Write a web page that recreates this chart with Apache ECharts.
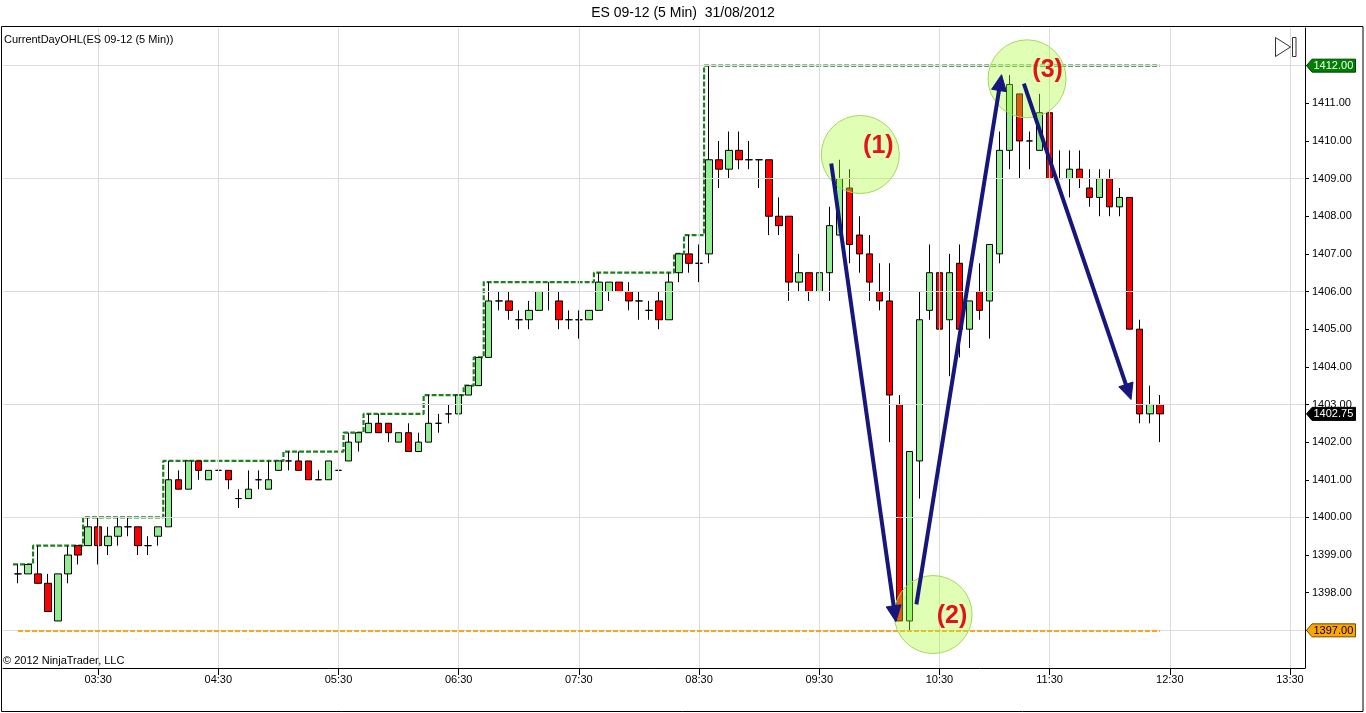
<!DOCTYPE html>
<html>
<head>
<meta charset="utf-8">
<script src="https://cdn.jsdelivr.net/npm/echarts@6/dist/echarts.min.js"></script>
<style>
html,body{margin:0;padding:0;background:#fff;}
#c{width:1366px;height:713px;}
</style>
</head>
<body>
<div id="c"></div>
<script>
// ---------- DATA ----------
const titleText = 'ES 09-12 (5 Min)  31/08/2012';
const indicatorText = 'CurrentDayOHL(ES 09-12 (5 Min))';
const copyrightText = '\u00A9 2012 NinjaTrader, LLC';

// 5-minute slots of the time axis (one empty slot before the first bar)
const cats = [
'02:45','02:50','02:55',
'03:00','03:05','03:10','03:15','03:20','03:25','03:30','03:35','03:40','03:45','03:50','03:55',
'04:00','04:05','04:10','04:15','04:20','04:25','04:30','04:35','04:40','04:45','04:50','04:55',
'05:00','05:05','05:10','05:15','05:20','05:25','05:30','05:35','05:40','05:45','05:50','05:55',
'06:00','06:05','06:10','06:15','06:20','06:25','06:30','06:35','06:40','06:45','06:50','06:55',
'07:00','07:05','07:10','07:15','07:20','07:25','07:30','07:35','07:40','07:45','07:50','07:55',
'08:00','08:05','08:10','08:15','08:20','08:25','08:30','08:35','08:40','08:45','08:50','08:55',
'09:00','09:05','09:10','09:15','09:20','09:25','09:30','09:35','09:40','09:45','09:50','09:55',
'10:00','10:05','10:10','10:15','10:20','10:25','10:30','10:35','10:40','10:50','10:55',
'11:00','11:05','11:10','11:15','11:20','11:25','11:30','11:35','11:40','11:45','11:50','11:55',
'12:00','12:05','12:10','12:15','12:20','12:25','12:30','12:35','12:40','12:45','12:50','12:55',
'13:00','13:05','13:10','13:15','13:20','13:25','13:30','13:35'
];
const tickLabels = ['03:30','04:30','05:30','06:30','07:30','08:30','09:30','10:30','11:30','12:30','13:30'];

const opens = [
1398.5,1398.5,1398.5,1398.25,1397.25,1398.5,1399.25,1399.25,1399.75,1399.25,
1399.5,1399.75,1399.75,1399.25,1399.5,1399.75,1401,1400.75,1401.5,1401,
1401.25,1401.25,1400.5,1400.5,1401,1400.75,1401.25,1401.5,1401.5,1401.5,
1401,1401,1401.25,1401.5,1402,1402.25,1402.5,1402.5,1402,1402.25,
1401.75,1402,1402.5,1402.75,1402.75,1403.25,1403.5,1404.25,1405.75,1405.75,
1405.25,1405.25,1405.5,1406,1405.75,1405.25,1405.25,1405.25,1405.5,1406,
1406.25,1406,1405.75,1405.5,1405.75,1405.25,1406.5,1407,1406.75,1407,
1409.5,1409.25,1409.75,1409.5,1409.5,1409.5,1408,1408,1406.25,1406.5,
1406,1406.5,1407.5,1408.75,1407.5,1407,1406,1405.75,1403,1397.25,
1401.5,1405.5,1406.5,1405.25,1406.75,1405,1406,1405.75,1407,1409.75,
1411.25,1410,1409.75,1410.75,1409,1409,1409.25,1408.75,1408.5,1409,
1408.25,1408.5,1405,1402.75,1403
];
const highs = [
1398.75,1398.75,1399.25,1398.5,1398.5,1399.25,1399.25,1400,1400,1399.75,
1400,1400,1399.75,1399.5,1399.75,1401.5,1401.25,1401.5,1401.5,1401.25,
1401.25,1401.25,1400.75,1401.25,1401.25,1401.5,1401.5,1401.75,1401.75,1401.5,
1401.25,1401.5,1401.75,1402.25,1402.25,1402.75,1402.75,1402.5,1402.25,1402.5,
1402.25,1403.25,1402.75,1403,1403.25,1403.5,1404.25,1406.25,1406,1406,
1405.5,1405.75,1406,1406.25,1406,1405.5,1405.5,1405.5,1406.5,1406.25,
1406.25,1406.25,1406,1405.75,1406,1406.5,1407,1407.5,1407.25,1412,
1410,1410.25,1410.25,1410,1409.5,1409.5,1408.5,1408,1407,1406.5,
1406.75,1408.25,1409.5,1409.25,1408,1407.5,1406.75,1406.75,1403.25,1401.75,
1406,1407.25,1408,1407,1407.25,1405.75,1406.75,1407.25,1410.25,1411.75,
1411.25,1410.25,1411.25,1411,1409.75,1409.75,1409.75,1409.25,1409.25,1409.25,
1408.75,1408.5,1405.25,1403.5,1403.25
];
const lows = [
1398.25,1398.5,1398.25,1397.5,1397.25,1398.25,1398.75,1399.25,1398.75,1399,
1399.25,1399.5,1399,1399,1399.25,1399.75,1400.75,1400.75,1401,1401,
1400.75,1400.75,1400.25,1400.5,1400.75,1400.75,1401.25,1401.25,1401.25,1401,
1401,1401,1401.25,1401.5,1401.75,1402.25,1402.25,1402,1402,1401.75,
1401.75,1402,1402.25,1402.5,1402.75,1403.25,1403.5,1404.25,1405.5,1405.25,
1405,1405,1405.5,1405.5,1405,1405,1404.75,1405.25,1405.5,1405.75,
1406,1405.5,1405.25,1405.25,1405,1405.25,1406.25,1406.5,1406.25,1406.75,
1408.75,1409,1409.25,1409.25,1408.75,1407.5,1407.5,1405.75,1406,1405.75,
1406,1405.75,1407.5,1406.75,1406.5,1405.75,1405.5,1402,1397.25,1397,
1400.5,1405.25,1405,1403.75,1404.25,1404.5,1405.25,1404.75,1406.75,1409.25,
1409,1409.25,1409.75,1408.75,1409,1408.5,1408.75,1408.25,1408,1408,
1408,1405,1402.5,1402.5,1402
];
const closes = [
1398.5,1398.75,1398.25,1397.5,1398.5,1399,1399,1399.75,1399.25,1399.5,
1399.75,1399.75,1399.25,1399.25,1399.75,1401,1400.75,1401.5,1401.25,1401.25,
1401.25,1401,1400.5,1400.75,1401,1401,1401.5,1401.5,1401.25,1401,
1401,1401.5,1401.25,1402,1402.25,1402.5,1402.25,1402.25,1402.25,1401.75,
1402,1402.5,1402.5,1402.75,1403.25,1403.5,1404.25,1405.75,1405.75,1405.5,
1405.25,1405.5,1406,1406,1405.25,1405.25,1405.25,1405.5,1406.25,1406.25,
1406,1405.75,1405.75,1405.5,1405.25,1406.25,1407,1406.75,1406.75,1409.5,
1409.25,1409.75,1409.5,1409.5,1409.5,1408,1407.75,1406.25,1406.5,1406,
1406.5,1407.75,1409,1407.25,1407,1406.25,1405.75,1403.25,1397.25,1401.75,
1405.25,1406.5,1405,1406.5,1405,1405.75,1405.5,1407.25,1409.75,1411.5,
1410,1410,1410.75,1409,1409,1409.25,1409,1408.5,1409,1408.25,
1408.5,1405,1402.75,1403,1402.75
];
// CurrentDayOHL high plot
const dayHigh = [
1398.75,1398.75,1399.25,1399.25,1399.25,1399.25,1399.25,
1400,1400,1400,1400,1400,1400,1400,1400,
1401.5,1401.5,1401.5,1401.5,1401.5,1401.5,1401.5,1401.5,1401.5,1401.5,1401.5,1401.5,
1401.75,1401.75,1401.75,1401.75,1401.75,1401.75,
1402.25,1402.25,
1402.75,1402.75,1402.75,1402.75,1402.75,1402.75,
1403.25,1403.25,1403.25,1403.25,
1403.5,1404.25,
1406.25,1406.25,1406.25,1406.25,1406.25,1406.25,1406.25,1406.25,1406.25,1406.25,1406.25,
1406.5,1406.5,1406.5,1406.5,1406.5,1406.5,1406.5,1406.5,
1407,1407.5,1407.5,
1412,1412,1412,1412,1412,1412,1412,1412,1412,1412,
1412,1412,1412,1412,1412,1412,1412,1412,1412,1412,
1412,1412,1412,1412,1412,1412,1412,1412,1412,1412,
1412,1412,1412,1412,1412,1412,1412,1412,1412,1412,
1412,1412,1412,1412,1412,1412
];
const dayLow = 1397;
const lastPrice = 1402.75;
const gridPrices = [1397,1400,1403,1406,1409,1412];

// annotations, in (slot on time axis, price)
const circleMarks = [[85.1,1409.64],[92.37,1397.42],[101.75,1411.65]];
const labelMarks = [['(1)',86.9,1409.85],['(2)',94.25,1397.39],['(3)',103.8,1411.89]];
const arrowMarks = [
  [[82.2,1409.4],[88.65,1397.23]],
  [[90.7,1397.69],[99.2,1411.76]],
  [[101.43,1411.52],[112.13,1403.13]]
];

// ---------- CHART ----------
const FONT = "'Liberation Sans', Arial, sans-serif";
const chart = echarts.init(document.getElementById('c'), null, {renderer:'canvas'});
const candleData = ['-'].concat(opens.map((o,i)=>[o, closes[i], lows[i], highs[i]]));
const highLine = ['-'].concat(dayHigh);
const isTick = (i, v) => tickLabels.indexOf(v) >= 0;

const gridLineData = gridPrices.map(v => ({yAxis: v})).concat(tickLabels.map(t => ({xAxis: t})));

chart.setOption({
  animation: false,
  backgroundColor: '#fff',
  title: {
    text: titleText, left: 'center', top: 6, padding: 0,
    textStyle: {fontSize: 14, fontWeight: 'normal', color: '#000', fontFamily: FONT}
  },
  grid: {left: 3, right: 61, top: 28, bottom: 45, containLabel: false},
  xAxis: {
    type: 'category', data: cats, boundaryGap: true,
    axisLine: {show: true, lineStyle: {color: '#000', width: 1}},
    axisTick: {show: true, alignWithLabel: true, interval: isTick, length: 7, lineStyle: {color: '#000'}},
    axisLabel: {interval: isTick, fontSize: 11, color: '#000', margin: 6, fontFamily: FONT},
    splitLine: {show: false}
  },
  yAxis: {
    type: 'value', position: 'right', min: 1396, max: 1413, interval: 1,
    axisLine: {show: true, lineStyle: {color: '#000'}},
    axisTick: {show: true, length: 4, lineStyle: {color: '#000'}},
    axisLabel: {formatter: v => v.toFixed(2), showMinLabel: false, showMaxLabel: false,
      fontSize: 11, color: '#000', margin: 7, fontFamily: FONT},
    splitLine: {show: false}
  },
  series: [
    {
      type: 'line', name: 'gridlines', data: [], z: 1, silent: true,
      markLine: {silent: true, symbol: ['none','none'], label: {show: false},
        lineStyle: {color: '#dcdcdc', width: 1, type: 'solid'}, data: gridLineData}
    },
    {
      type: 'line', name: 'Low', data: [], z: 3, silent: true,
      markLine: {silent: true, symbol: ['none','none'], label: {show: false},
        lineStyle: {color: '#FFA31A', width: 2, type: [5,2]},
        data: [[{coord: [cats[1], dayLow]}, {coord: [cats[opens.length], dayLow]}]]}
    },
    {
      type: 'line', name: 'High', data: highLine, step: 'middle', symbol: 'none', z: 3, silent: true,
      lineStyle: {color: '#1f801f', width: 2.2, type: [5,2]}
    },
    {
      type: 'candlestick', name: 'ES 09-12', data: candleData, barWidth: 7, z: 4,
      itemStyle: {color: '#90EE90', color0: '#FF0000', borderColor: '#000', borderColor0: '#000',
        borderColorDoji: '#000', borderWidth: 1}
    }
  ]
});

// ---------- GRAPHICS (positions through the chart's own scales) ----------
function px(slot){
  const a = chart.convertToPixel({xAxisIndex: 0}, cats[0]);
  const b = chart.convertToPixel({xAxisIndex: 0}, cats[1]);
  return a + slot * (b - a);
}
function py(p){ return chart.convertToPixel({yAxisIndex: 0}, p); }
const band = px(1) - px(0);
const axisX = px(cats.length - 1) + band / 2;

const g = [];
// outer frame
g.push({type: 'rect', silent: true, z: 20, shape: {x: 1.5, y: 26.5, width: 1361.5, height: 685},
  style: {fill: 'none', stroke: '#000', lineWidth: 1}});
g.push({type: 'text', silent: true, z: 20, style: {text: indicatorText, x: 4, y: 40,
  font: '11px ' + FONT, fill: '#000', align: 'left', verticalAlign: 'middle'}});
g.push({type: 'text', silent: true, z: 20, style: {text: copyrightText, x: 3, y: 661,
  font: '11px ' + FONT, fill: '#000', align: 'left', verticalAlign: 'middle'}});
// play-to-end icon
g.push({type: 'polygon', silent: true, z: 20, shape: {points: [[1275.5,37.5],[1290.5,47],[1275.5,56.5]]},
  style: {fill: '#fff', stroke: '#333', lineWidth: 1}});
g.push({type: 'rect', silent: true, z: 20, shape: {x: 1292.5, y: 37.5, width: 3.5, height: 19},
  style: {fill: '#fff', stroke: '#333', lineWidth: 1}});

// price tags on the right axis
const tags = [
  {v: dayHigh[dayHigh.length - 1], fill: '#008000', stroke: '#004400', color: '#fff'},
  {v: lastPrice, fill: '#000', stroke: '#000', color: '#fff'},
  {v: dayLow, fill: '#FFA500', stroke: '#6b4a00', color: '#000'}
];
tags.forEach(t => {
  const y = py(t.v);
  const ax = axisX;
  g.push({type: 'polygon', silent: true, z: 15,
    shape: {points: [[ax + 1.5, y], [ax + 7, y - 6.5], [ax + 50.5, y - 6.5], [ax + 50.5, y + 6.5], [ax + 7, y + 6.5]]},
    style: {fill: t.fill, stroke: t.stroke, lineWidth: 1}});
  g.push({type: 'text', silent: true, z: 16,
    style: {text: t.v.toFixed(2), x: ax + 8.5, y: y + 0.5, font: '11px ' + FONT, fill: t.color,
      align: 'left', verticalAlign: 'middle'}});
});

// circles
circleMarks.forEach(c => {
  g.push({type: 'circle', silent: true, z: 10, shape: {cx: px(c[0]), cy: py(c[1]), r: 39},
    style: {fill: 'rgba(173,255,47,0.36)', stroke: '#a3d95a', lineWidth: 1}});
});
// arrows
arrowMarks.forEach(a => {
  const x1 = px(a[0][0]), y1 = py(a[0][1]);
  const x2 = px(a[1][0]), y2 = py(a[1][1]);
  const dx = x2 - x1, dy = y2 - y1, L = Math.sqrt(dx * dx + dy * dy);
  const ux = dx / L, uy = dy / L;
  const head = 16, half = 7.5;
  const bx = x2 - ux * head, by = y2 - uy * head;
  g.push({type: 'line', silent: true, z: 11, shape: {x1: x1, y1: y1, x2: bx + ux * 2, y2: by + uy * 2},
    style: {stroke: '#16167c', lineWidth: 4}});
  g.push({type: 'polygon', silent: true, z: 11,
    shape: {points: [[x2, y2], [bx - uy * half, by + ux * half], [bx + uy * half, by - ux * half]]},
    style: {fill: '#16167c', stroke: '#16167c', lineWidth: 1}});
});
// (1) (2) (3)
labelMarks.forEach(l => {
  g.push({type: 'text', silent: true, z: 12,
    style: {text: l[0], x: px(l[1]), y: py(l[2]), font: 'bold 25px ' + FONT, fill: '#e3121b',
      align: 'center', verticalAlign: 'middle'}});
});

chart.setOption({graphic: g});
</script>
</body>
</html>
